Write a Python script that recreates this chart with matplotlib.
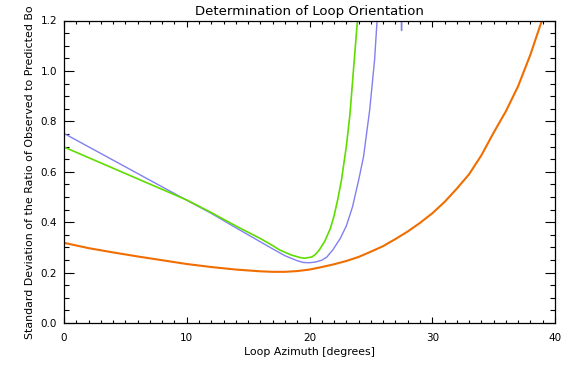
import matplotlib
matplotlib.use("Agg")
import matplotlib.pyplot as plt
from matplotlib.ticker import MultipleLocator

# ---- data ----
orange_az = [0, 2, 4, 6, 8, 10, 12, 14, 16, 17, 18, 19, 20, 21, 22, 23, 24, 25,
             26, 27, 28, 29, 30, 31, 32, 33, 34, 35, 36, 37, 38, 39, 40]
orange_sd = [0.318, 0.297, 0.280, 0.264, 0.249, 0.234, 0.222, 0.212, 0.205, 0.203,
             0.203, 0.206, 0.212, 0.222, 0.233, 0.246, 0.262, 0.283, 0.305, 0.333,
             0.363, 0.397, 0.435, 0.480, 0.533, 0.590, 0.665, 0.755, 0.840, 0.940,
             1.065, 1.210, 1.360]

blue_az = [0, 2, 4, 6, 8, 10, 12, 14, 16, 17, 18, 19, 19.5, 20, 20.5, 21, 21.4,
           21.9, 22.5, 23, 23.5, 24, 24.4, 24.9, 25.3, 25.5, 26, 27, 27.5, 28]
blue_sd = [0.752, 0.699, 0.646, 0.593, 0.540, 0.487, 0.435, 0.378, 0.322, 0.294,
           0.267, 0.247, 0.240, 0.239, 0.242, 0.249, 0.261, 0.290, 0.335, 0.385,
           0.460, 0.566, 0.659, 0.844, 1.042, 1.197, 1.600, 2.600, 1.160, 3.500]

green_az = [0, 2, 4, 6, 8, 10, 12, 14, 15, 16, 17, 17.6, 18.5, 19.2, 19.6, 20.2,
            20.5, 20.8, 21.25, 21.7, 22.0, 22.3, 22.6, 23.0, 23.3, 23.6, 23.9, 24.2]
green_sd = [0.698, 0.656, 0.614, 0.572, 0.530, 0.488, 0.438, 0.385, 0.360, 0.335,
            0.307, 0.289, 0.270, 0.260, 0.257, 0.262, 0.273, 0.290, 0.325, 0.375,
            0.425, 0.490, 0.566, 0.700, 0.830, 1.015, 1.197, 1.400]

title = "Determination of Loop Orientation"
xlabel = "Loop Azimuth [degrees]"
ylabel = "Standard Deviation of the Ratio of Observed to Predicted Bo"
xticks = [0, 10, 20, 30, 40]
yticks = [0.0, 0.2, 0.4, 0.6, 0.8, 1.0, 1.2]

fig = plt.figure(figsize=(5.74, 3.67), dpi=100)
ax = fig.add_axes([64 / 574, 44 / 367, 491 / 574, 302.5 / 367])

ax.plot(blue_az, blue_sd, color="#8080f0", lw=1.0)
ax.plot(green_az, green_sd, color="#5fdc00", lw=1.2)
ax.plot(orange_az, orange_sd, color="#f06e00", lw=1.5)

ax.set_xlim(0, 40)
ax.set_ylim(0, 1.2)
ax.set_xticks(xticks)
ax.set_xticklabels([str(t) for t in xticks])
ax.set_yticks(yticks)
ax.set_yticklabels(["%.1f" % t for t in yticks])
ax.xaxis.set_minor_locator(MultipleLocator(1))
ax.yaxis.set_minor_locator(MultipleLocator(0.05))

for s in ax.spines.values():
    s.set_linewidth(0.9)

ax.tick_params(axis="both", which="both", direction="in", top=True, right=True,
               width=0.8, labelsize=7.5, colors="black")
ax.tick_params(axis="x", which="major", length=4.5, pad=7)
ax.tick_params(axis="x", which="minor", length=2.3)
ax.tick_params(axis="y", which="major", length=7.2, pad=5)
ax.tick_params(axis="y", which="minor", length=3.6)

ax.set_title(title, fontsize=9.5, pad=4)
ax.set_xlabel(xlabel, fontsize=7.8, labelpad=3)
ax.set_ylabel(ylabel, fontsize=7.9, labelpad=4)

fig.savefig("out.png", dpi=100)
